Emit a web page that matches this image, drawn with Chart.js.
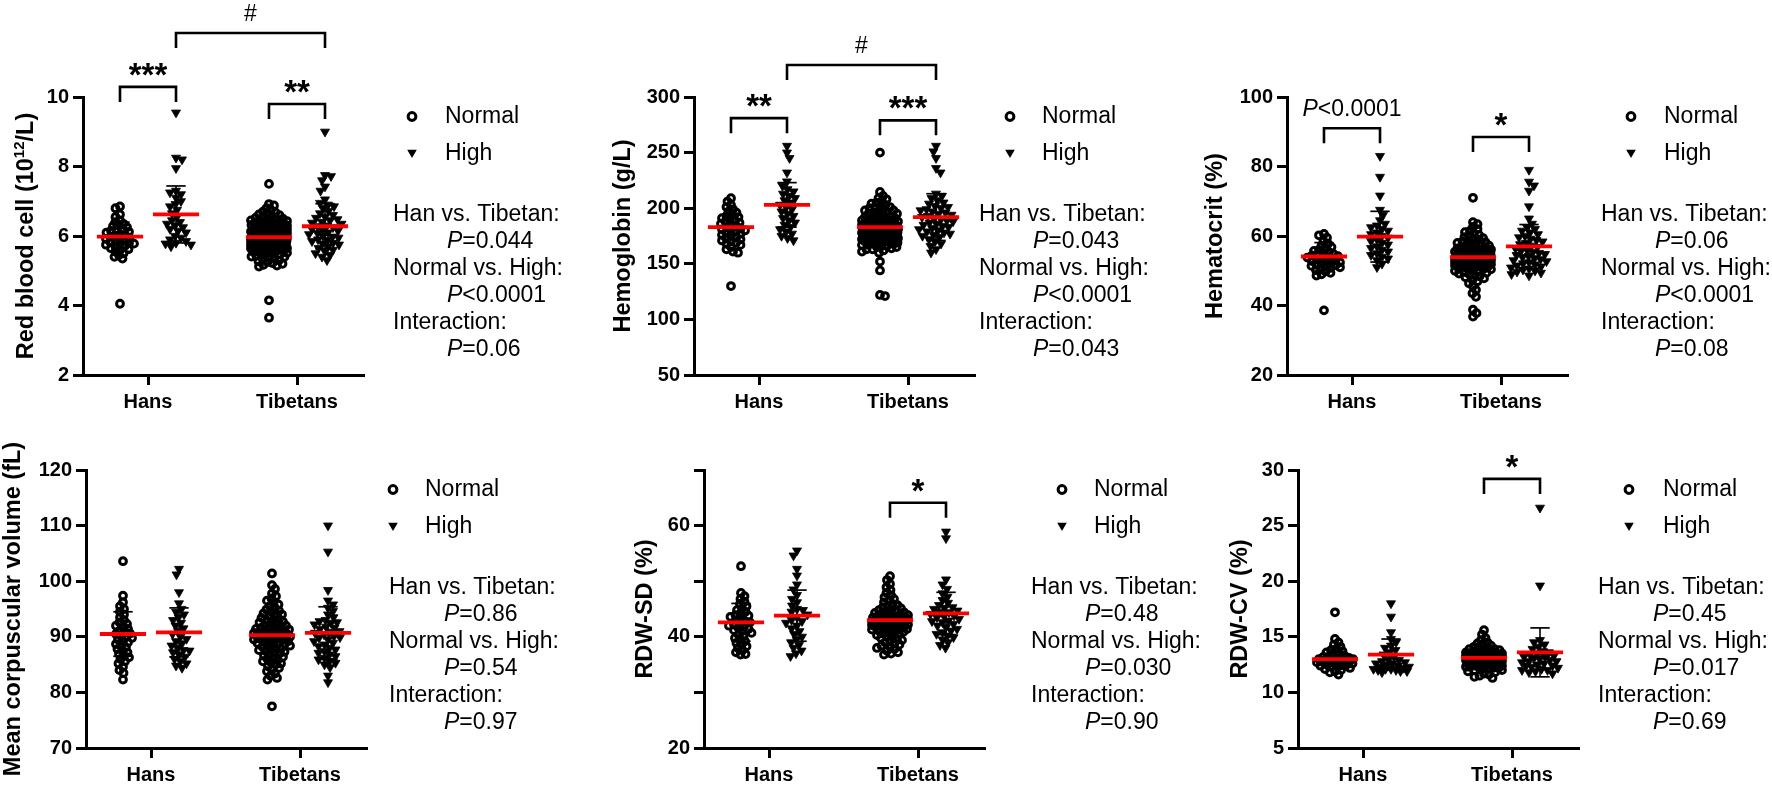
<!DOCTYPE html>
<html>
<head>
<meta charset="utf-8">
<script src="https://cdn.jsdelivr.net/npm/chart.js@4.4.1/dist/chart.umd.min.js"></script>
<style>
html, body { margin: 0; padding: 0; background: #fff; }
#wrap { position: relative; width: 1772px; height: 791px; overflow: hidden; background: #fff; }
#wrap canvas { position: absolute; left: 0; top: 0; }
</style>
</head>
<body>
<div id="wrap">
  <canvas id="c_rbc" width="1772" height="791"></canvas>
  <canvas id="c_hb" width="1772" height="791"></canvas>
  <canvas id="c_hct" width="1772" height="791"></canvas>
  <canvas id="c_mcv" width="1772" height="791"></canvas>
  <canvas id="c_sd" width="1772" height="791"></canvas>
  <canvas id="c_cv" width="1772" height="791"></canvas>
</div>
<script>
// categories / groups
const categories = ['Hans', 'Tibetans'];
const groupNames = ['Normal', 'High'];
const comparisons = ['Han vs. Tibetan:', 'Normal vs. High:', 'Interaction:'];

// Red blood cell (10^12/L)
const rbcHanNormal = [6.85, 6.8, 6.62, 6.55, 6.45, 6.4, 6.35, 6.3, 6.28, 6.25, 6.2, 6.18, 6.15, 6.12, 6.1, 6.05, 6.02, 6.0, 5.98, 5.95, 5.92, 5.9, 5.88, 5.85, 5.82, 5.8, 5.78, 5.75, 5.75, 5.72, 5.7, 5.65, 5.62, 5.6, 5.55, 5.5, 5.45, 5.4, 5.35, 4.05];
const rbcHanHigh = [9.55, 8.25, 8.2, 7.95, 7.3, 7.25, 7.2, 7.1, 7.0, 6.92, 6.85, 6.75, 6.65, 6.55, 6.45, 6.4, 6.35, 6.3, 6.25, 6.2, 6.15, 6.1, 6.0, 5.95, 5.9, 5.85, 5.8, 5.78, 5.75, 5.7];
const rbcTibNormal = [7.5, 6.92, 6.88, 6.8, 6.75, 6.7, 6.68, 6.65, 6.62, 6.6, 6.58, 6.55, 6.52, 6.5, 6.5, 6.48, 6.46, 6.45, 6.43, 6.42, 6.4, 6.4, 6.38, 6.36, 6.35, 6.34, 6.32, 6.3, 6.3, 6.29, 6.28, 6.26, 6.25, 6.24, 6.22, 6.21, 6.2, 6.2, 6.19, 6.18, 6.17, 6.16, 6.15, 6.14, 6.13, 6.12, 6.11, 6.1, 6.1, 6.09, 6.08, 6.07, 6.06, 6.05, 6.05, 6.04, 6.03, 6.02, 6.01, 6.0, 6.0, 5.99, 5.98, 5.97, 5.96, 5.95, 5.95, 5.94, 5.93, 5.92, 5.91, 5.9, 5.9, 5.89, 5.88, 5.87, 5.86, 5.85, 5.85, 5.84, 5.83, 5.82, 5.81, 5.8, 5.8, 5.79, 5.78, 5.77, 5.76, 5.75, 5.74, 5.73, 5.72, 5.71, 5.7, 5.69, 5.68, 5.67, 5.66, 5.65, 5.64, 5.62, 5.61, 5.6, 5.58, 5.57, 5.55, 5.54, 5.52, 5.5, 5.49, 5.47, 5.45, 5.43, 5.41, 5.4, 5.38, 5.35, 5.32, 5.3, 5.27, 5.25, 5.22, 5.2, 5.17, 5.15, 5.12, 4.15, 3.65];
const rbcTibHigh = [9.0, 7.75, 7.72, 7.6, 7.42, 7.3, 7.05, 6.95, 6.9, 6.85, 6.8, 6.72, 6.65, 6.6, 6.55, 6.52, 6.48, 6.45, 6.4, 6.38, 6.35, 6.3, 6.28, 6.25, 6.2, 6.18, 6.15, 6.1, 6.08, 6.05, 6.0, 5.98, 5.95, 5.9, 5.88, 5.85, 5.8, 5.78, 5.75, 5.7, 5.65, 5.6, 5.55, 5.5, 5.45, 5.4, 5.3];
const rbcMeans = [5.98, 6.62, 5.97, 6.28];
const rbcSD = [0.42, 0.82, 0.45, 0.65];

// Hemoglobin (g/L)
const hbHanNormal = [209, 206, 203, 201, 199, 197, 196, 194, 193, 192, 191, 190, 189, 188, 187, 186, 185, 184, 183, 182, 181, 180, 180, 179, 178, 177, 176, 175, 174, 173, 172, 171, 170, 169, 168, 167, 165, 163, 161, 160, 130];
const hbHanHigh = [256, 250, 245, 232, 224, 220, 217, 215, 213, 211, 209, 207, 205, 203, 201, 199, 197, 195, 193, 191, 189, 187, 185, 183, 181, 179, 177, 175, 173, 171];
const hbTibNormal = [250, 214.6, 211, 209, 208, 206, 205, 204, 203, 202, 201, 200, 200, 199, 198, 198, 197, 196, 196, 195, 195, 194, 193, 193, 192, 192, 191, 191, 190, 190, 189, 189, 189, 188, 188, 187, 187, 187, 186, 186, 186, 185, 185, 185, 184, 184, 184, 184, 183, 183, 183, 183, 182, 182, 182, 182, 181, 181, 181, 181, 180, 180, 180, 180, 179, 179, 179, 179, 178, 178, 178, 177, 177, 177, 177, 176, 176, 176, 175, 175, 175, 174, 174, 174, 173, 173, 173, 172, 172, 172, 171, 171, 170, 170, 170, 169, 169, 168, 168, 167, 167, 166, 166, 165, 165, 164, 163, 163, 162, 161, 160, 152, 144, 122, 121];
const hbTibHigh = [256, 251, 245, 236, 232, 213, 211, 209, 207, 205, 204, 202, 201, 200, 199, 198, 197, 196, 195, 194, 193, 192, 191, 190, 189, 188, 187, 186, 185, 184, 183, 182, 181, 180, 179, 178, 177, 176, 175, 174, 172, 170, 168, 166, 163, 160];
const hbMeans = [183, 203, 183, 192];
const hbSD = [11, 20, 15, 21];

// Hematocrit (%)
const hctHanNormal = [60.6, 60.2, 59.5, 58.5, 57.8, 57.2, 56.8, 56.4, 56.0, 55.7, 55.4, 55.1, 54.8, 54.6, 54.4, 54.2, 54.0, 53.8, 53.6, 53.4, 53.2, 53.0, 52.8, 52.6, 52.4, 52.2, 52.0, 51.8, 51.6, 51.4, 51.2, 51.0, 50.8, 50.5, 50.2, 49.8, 49.4, 49.0, 48.6, 38.6];
const hctHanHigh = [83, 77, 71.6, 67.5, 66, 64.5, 63.5, 63, 62.5, 62, 61.5, 61, 60.5, 60, 59.5, 59, 58.5, 58, 57.5, 57, 56.5, 56, 55.5, 55, 54.5, 54, 53.5, 53, 52, 51];
const hctTibNormal = [71, 64, 63.4, 62.6, 62, 61.5, 61.1, 60.7, 60.3, 60, 59.7, 59.4, 59.1, 58.9, 58.6, 58.4, 58.2, 58, 57.8, 57.6, 57.4, 57.2, 57, 56.9, 56.7, 56.5, 56.4, 56.2, 56.1, 56, 55.9, 55.7, 55.6, 55.5, 55.4, 55.3, 55.2, 55.1, 55, 54.9, 54.8, 54.7, 54.6, 54.5, 54.4, 54.3, 54.2, 54.1, 54, 54, 53.9, 53.8, 53.7, 53.6, 53.5, 53.4, 53.3, 53.2, 53.1, 53, 53, 52.9, 52.8, 52.7, 52.6, 52.5, 52.4, 52.3, 52.2, 52.1, 52, 51.9, 51.8, 51.6, 51.5, 51.4, 51.2, 51.1, 51, 50.8, 50.7, 50.5, 50.4, 50.2, 50, 49.8, 49.6, 49.4, 49.2, 49, 48.7, 48.4, 48.1, 47.8, 47.4, 47, 46.4, 45.6, 44.5, 43.5, 42.5, 38.8, 37.8, 36.8];
const hctTibHigh = [79, 75.6, 74.5, 73, 68.5, 65, 63.5, 62.5, 62, 61.5, 61, 60.5, 60, 59.6, 59.2, 58.8, 58.4, 58, 57.6, 57.2, 56.8, 56.4, 56, 55.7, 55.4, 55.1, 54.8, 54.5, 54.2, 53.9, 53.6, 53.3, 53, 52.7, 52.4, 52.1, 51.8, 51.5, 51.2, 50.9, 50.6, 50.3, 50, 49.7, 49.4, 49, 48.6];
const hctMeans = [54.1, 59.8, 53.9, 57.0];
const hctSD = [4.0, 7.3, 4.8, 6.3];

// Mean corpuscular volume (fL)
const mcvHanNormal = [103.6, 97.4, 96.2, 95.5, 95, 94.5, 94, 93.5, 93, 92.6, 92.3, 92, 91.7, 91.4, 91.1, 90.8, 90.6, 90.5, 90.2, 90, 89.8, 89.5, 89.2, 89, 88.7, 88.4, 88.1, 87.8, 87.5, 87.2, 86.9, 86.6, 86.3, 86, 85.6, 85.2, 84.6, 84, 83.5, 82.3];
const mcvHanHigh = [102.2, 101.2, 98, 96, 95, 94.5, 94, 93.5, 93, 92.5, 92, 91.5, 91, 90.5, 90, 89.6, 89.2, 88.8, 88.4, 88, 87.6, 87.5, 87.2, 86.8, 86.4, 86, 85.6, 85.2, 84.8, 84.4];
const mcvTibNormal = [101.4, 99.3, 98.6, 97.8, 97.3, 96.9, 96.5, 96.1, 95.8, 95.5, 95.2, 94.9, 94.7, 94.4, 94.2, 94, 93.8, 93.6, 93.4, 93.2, 93, 92.9, 92.7, 92.6, 92.4, 92.3, 92.1, 92, 91.9, 91.7, 91.6, 91.5, 91.4, 91.3, 91.2, 91.1, 91, 90.9, 90.8, 90.7, 90.6, 90.5, 90.4, 90.3, 90.2, 90.1, 90, 90, 89.9, 89.8, 89.7, 89.6, 89.5, 89.4, 89.3, 89.2, 89.1, 89, 88.9, 88.8, 88.7, 88.6, 88.4, 88.3, 88.2, 88, 87.9, 87.7, 87.6, 87.4, 87.3, 87.1, 87, 86.8, 86.6, 86.4, 86.2, 86, 85.8, 85.6, 85.4, 85.2, 85, 84.7, 84.4, 84.1, 83.8, 83.4, 83, 82.6, 82.3, 77.5];
const mcvTibHigh = [110, 105.3, 98.4, 96.5, 95.8, 95.2, 94.6, 94, 93.5, 93, 92.8, 92.6, 92.5, 92.2, 91.8, 91.6, 91.4, 91, 90.9, 90.7, 90.4, 90.1, 89.9, 89.8, 89.5, 89.2, 88.9, 88.6, 88.3, 88, 87.7, 87.4, 87.1, 86.8, 86.5, 86.2, 85.9, 85.6, 85.3, 85, 84.5, 83, 81.8];
const mcvMeans = [90.5, 90.8, 90.3, 90.7];
const mcvSD = [4.0, 4.4, 4.3, 4.7];

// RDW-SD (%)
const sdHanNormal = [52.7, 47.9, 47.3, 46.8, 46.3, 45.9, 45.5, 45.1, 44.8, 44.5, 44.2, 43.9, 43.8, 43.6, 43.3, 43, 42.8, 42.6, 42.4, 42.2, 42, 41.8, 41.6, 41.4, 41.2, 41, 40.7, 40.4, 40.1, 39.8, 39.5, 39.2, 38.9, 38.6, 38.3, 38, 37.6, 37.2, 36.9, 36.8];
const sdHanHigh = [55.5, 54.6, 52.2, 51, 49.4, 48.5, 47.5, 46.8, 46.2, 45.6, 45, 44.8, 44.5, 44, 43.5, 43, 42.8, 42.5, 42, 41.5, 41, 40.5, 40, 39.5, 39, 38.5, 38, 37.5, 37, 36.5];
const sdTibNormal = [50.9, 50.2, 49.5, 48.9, 48.4, 47.9, 47.5, 47.1, 46.8, 46.5, 46.2, 45.9, 45.7, 45.5, 45.3, 45.1, 44.9, 44.8, 44.6, 44.5, 44.4, 44.3, 44.2, 44.1, 44, 43.9, 43.8, 43.7, 43.6, 43.5, 43.5, 43.4, 43.3, 43.2, 43.2, 43.1, 43, 43, 42.9, 42.8, 42.8, 42.7, 42.6, 42.6, 42.5, 42.4, 42.4, 42.3, 42.2, 42.2, 42.1, 42, 42, 41.9, 41.8, 41.7, 41.6, 41.5, 41.4, 41.3, 41.2, 41.1, 41, 40.9, 40.8, 40.6, 40.5, 40.3, 40.1, 40, 39.8, 39.6, 39.4, 39.2, 39, 38.8, 38.6, 38.4, 38.2, 38, 37.8, 37.5, 37.2, 37, 36.8];
const sdTibHigh = [58.9, 57.7, 50.3, 49.4, 48.6, 47.8, 47.2, 46.6, 46.1, 45.7, 45.3, 45.2, 45, 44.7, 44.5, 44.4, 44.1, 43.8, 43.7, 43.5, 43.2, 42.9, 42.8, 42.6, 42.3, 42, 41.7, 41.4, 41.1, 40.8, 40.5, 40.2, 39.9, 39.5, 39, 38.5, 38];
const sdMeans = [42.6, 43.8, 43.0, 44.2];
const sdSD = [3.4, 4.6, 3.0, 3.8];

// RDW-CV (%)
const cvHanNormal = [17.2, 14.8, 14.5, 14.3, 14.1, 13.9, 13.8, 13.7, 13.6, 13.5, 13.4, 13.3, 13.2, 13.2, 13.1, 13.1, 13, 13, 13, 12.9, 12.9, 12.8, 12.8, 12.8, 12.7, 12.7, 12.6, 12.6, 12.5, 12.5, 12.4, 12.4, 12.3, 12.3, 12.2, 12.1, 12, 11.9, 11.8, 11.6];
const cvHanHigh = [18.0, 16.8, 15.4, 14.8, 14.5, 14.2, 14, 13.8, 13.6, 13.4, 13.2, 13, 12.9, 12.8, 12.7, 12.6, 12.6, 12.5, 12.4, 12.3, 12.3, 12.2, 12.1, 12.1, 12.1, 12, 12, 11.9, 11.9, 11.8];
const cvTibNormal = [15.6, 15.2, 14.9, 14.7, 14.5, 14.4, 14.3, 14.2, 14.1, 14, 14, 13.9, 13.9, 13.8, 13.8, 13.7, 13.7, 13.6, 13.6, 13.6, 13.5, 13.5, 13.5, 13.4, 13.4, 13.4, 13.4, 13.3, 13.3, 13.3, 13.3, 13.2, 13.2, 13.2, 13.2, 13.2, 13.1, 13.1, 13.1, 13.1, 13.1, 13, 13, 13, 13, 13, 12.9, 12.9, 12.9, 12.9, 12.9, 12.8, 12.8, 12.8, 12.8, 12.8, 12.7, 12.7, 12.7, 12.7, 12.6, 12.6, 12.6, 12.6, 12.5, 12.5, 12.5, 12.4, 12.4, 12.4, 12.3, 12.3, 12.3, 12.2, 12.2, 12.1, 12.1, 12, 12, 11.9, 11.8, 11.7, 11.6, 11.5, 11.4, 11.3];
const cvTibHigh = [26.6, 19.6, 14.7, 14.5, 14.3, 14.1, 13.9, 13.7, 13.6, 13.5, 13.4, 13.3, 13.2, 13.2, 13.1, 13, 12.9, 12.8, 12.8, 12.7, 12.6, 12.5, 12.4, 12.4, 12.3, 12.2, 12.1, 12, 12, 11.9, 11.8, 11.7];
const cvMeans = [13.0, 13.4, 13.1, 13.6];
const cvSD = [0.9, 1.4, 0.8, 2.2];

// y axis ranges [min, max, step]
const rbcAxis = [2, 10, 2];
const hbAxis = [50, 300, 50];
const hctAxis = [20, 100, 20];
const mcvAxis = [70, 120, 10];
const sdAxis = [20, 70, 10];
const cvAxis = [5, 30, 5];

// two-way ANOVA P values (Han vs Tibetan, Normal vs High, Interaction)
const rbcP = ['=0.044', '<0.0001', '=0.06'];
const hbP = ['=0.043', '<0.0001', '=0.043'];
const hctP = ['=0.06', '<0.0001', '=0.08'];
const mcvP = ['=0.86', '=0.54', '=0.97'];
const sdP = ['=0.48', '=0.030', '=0.90'];
const cvP = ['=0.45', '=0.017', '=0.69'];

// brackets: [from group, to group, y value, label]  groups: 0 Han-Normal, 1 Han-High, 2 Tib-Normal, 3 Tib-High
const rbcBrackets = [[0, 1, 10.29, '***'], [1, 3, 11.84, '#'], [2, 3, 9.8, '**']];
const hbBrackets = [[0, 1, 281, '**'], [1, 3, 328.8, '#'], [2, 3, 279, '***']];
const hctBrackets = [[0, 1, 91, 'P<0.0001'], [2, 3, 88.5, '*']];
const mcvBrackets = [];
const sdBrackets = [[2, 3, 64.1, '*']];
const cvBrackets = [[2, 3, 29.2, '*']];

const FONT = "'Liberation Sans', Arial, sans-serif";
Chart.defaults.font.family = FONT;
Chart.defaults.color = '#000';

const W = 1772, H = 791;
const PLOT_H = 278;      // axis height
const UNIT_PX = 149;     // px between Hans and Tibetans
const OFF = 0.188;       // group offset from category centre
const MAX_SPREAD = 18;   // half width of a dot column, px
const groupX = [1 - OFF, 1 + OFF, 2 - OFF, 2 + OFF];

// put dots side by side in a column (dot plot), overlapping when crowded
function swarm(values, center, yMin, yMax, minDist) {
    const pxY = PLOT_H / (yMax - yMin);
    const items = values.slice().sort((a, b) => b - a);
    const placed = [];
    let flip = 1;
    items.forEach(v => {
        const py = v * pxY;
        let best = 0, bestD = -1;
        for (let k = 0; k < 200; k++) {
            const cand = k === 0 ? 0 : Math.ceil(k / 2) * 0.5 * (k % 2 ? flip : -flip);
            if (Math.abs(cand) > MAX_SPREAD) break;
            let dmin = 1e9;
            for (const q of placed) {
                const dy = q.py - py, dx = q.off - cand;
                const d = Math.sqrt(dx * dx + dy * dy);
                if (d < dmin) dmin = d;
            }
            if (dmin >= minDist) { best = cand; bestD = dmin; break; }
            if (dmin > bestD) { bestD = dmin; best = cand; }
        }
        flip = -flip;
        placed.push({ v: v, py: py, off: best });
    });
    return placed.map(q => ({ x: center + q.off / UNIT_PX, y: q.v }));
}

function lineSet(points, color, width) {
    return {
        data: points, showLine: true, borderColor: color, borderWidth: width,
        pointRadius: 0, pointHoverRadius: 0, clip: false, order: color === '#000' ? 2 : 1
    };
}

function drawRich(ctx, parts, x, y, align) {
    let total = 0;
    parts.forEach(p => { ctx.font = p.font; total += ctx.measureText(p.t).width; });
    let cx = align === 'center' ? x - total / 2 : x;
    parts.forEach(p => {
        ctx.font = p.font;
        ctx.fillText(p.t, cx, y + (p.dy || 0));
        cx += ctx.measureText(p.t).width;
    });
}

function pParts(txt, size) {
    return [
        { t: 'P', font: 'italic ' + size + 'px ' + FONT },
        { t: txt, font: size + 'px ' + FONT }
    ];
}

const panelDecor = {
    id: 'panelDecor',
    afterDraw(chart, args, o) {
        const ctx = chart.ctx;
        const xs = chart.scales.x, ys = chart.scales.y, area = chart.chartArea;
        ctx.save();
        ctx.fillStyle = '#000';
        ctx.strokeStyle = '#000';
        ctx.textBaseline = 'alphabetic';
        ctx.textAlign = 'left';

        // y axis title (rotated)
        ctx.save();
        ctx.translate(o.titleX, (area.top + area.bottom) / 2);
        ctx.rotate(-Math.PI / 2);
        ctx.textBaseline = 'middle';
        drawRich(ctx, o.title, 0, 0, 'center');
        ctx.restore();

        // significance brackets
        ctx.lineWidth = 2.6;
        o.brackets.forEach(b => {
            const x1 = xs.getPixelForValue(groupX[b[0]]);
            const x2 = xs.getPixelForValue(groupX[b[1]]);
            const yt = ys.getPixelForValue(b[2]);
            ctx.beginPath();
            ctx.moveTo(x1, yt + 15);
            ctx.lineTo(x1, yt);
            ctx.lineTo(x2, yt);
            ctx.lineTo(x2, yt + 15);
            ctx.stroke();
            const mx = (x1 + x2) / 2;
            if (b[3].charAt(0) === '*') {
                drawRich(ctx, [{ t: b[3], font: 'bold 33px ' + FONT }], mx, yt - 1, 'center');
            } else if (b[3] === '#') {
                drawRich(ctx, [{ t: b[3], font: '23px ' + FONT }], mx, yt - 12, 'center');
            } else {
                drawRich(ctx, pParts(b[3].slice(1), 23), mx, yt - 12, 'center');
            }
        });

        // legend
        ctx.textBaseline = 'middle';
        const ly1 = area.top + 19.5, ly2 = area.top + 56.5;
        ctx.lineWidth = 3;
        ctx.beginPath();
        ctx.arc(o.legendX, ly1, 3.9, 0, Math.PI * 2);
        ctx.stroke();
        ctx.beginPath();
        ctx.moveTo(o.legendX - 4.8, ly2 - 3.8);
        ctx.lineTo(o.legendX + 4.8, ly2 - 3.8);
        ctx.lineTo(o.legendX, ly2 + 4.6);
        ctx.closePath();
        ctx.fill();
        ctx.font = '23px ' + FONT;
        ctx.fillText(groupNames[0], o.legendTextX, ly1);
        ctx.fillText(groupNames[1], o.legendTextX, ly2);

        // statistics text
        const sy = area.top + 118, step = 26.9;
        comparisons.forEach((c, i) => {
            ctx.font = '23px ' + FONT;
            ctx.fillText(c, o.statsX, sy + step * 2 * i);
            drawRich(ctx, pParts(o.pvals[i], 23), o.statsPX, sy + step * (2 * i + 1), 'left');
        });
        ctx.restore();
    }
};

function makePanel(cfg) {
    const [yMin, yMax, yStep] = cfg.axis;
    const normal = swarm(cfg.data[0], groupX[0], yMin, yMax, 4.8).concat(swarm(cfg.data[2], groupX[2], yMin, yMax, 4.8));
    const high = swarm(cfg.data[1], groupX[1], yMin, yMax, 6).concat(swarm(cfg.data[3], groupX[3], yMin, yMax, 6));

    const datasets = [
        {
            label: groupNames[0], data: normal, pointStyle: 'circle', pointRadius: 3.4,
            pointBorderWidth: 3, pointBorderColor: '#000', pointBackgroundColor: 'rgba(0,0,0,0)',
            order: 3, clip: false
        },
        {
            label: groupNames[1], data: high, pointStyle: 'triangle', pointRotation: 180, pointRadius: 5.2,
            pointBorderWidth: 0.8, pointBorderColor: '#000', pointBackgroundColor: '#000',
            order: 3, clip: false
        }
    ];
    const capW = 0.065, meanW = 0.155;
    cfg.means.forEach((m, i) => {
        const gx = groupX[i], sd = cfg.sd[i];
        datasets.push(lineSet([{ x: gx, y: m - sd }, { x: gx, y: m + sd }], '#000', 1.6));
        datasets.push(lineSet([{ x: gx - capW, y: m + sd }, { x: gx + capW, y: m + sd }], '#000', 1.7));
        datasets.push(lineSet([{ x: gx - capW, y: m - sd }, { x: gx + capW, y: m - sd }], '#000', 1.7));
        datasets.push(lineSet([{ x: gx - meanW, y: m }, { x: gx + meanW, y: m }], '#ff0000', 3.8));
    });

    const axisLine = { display: true, color: '#000', width: 3 };
    const gridTicks = { drawOnChartArea: false, drawTicks: true, tickLength: 10, tickWidth: 3, tickColor: '#000', color: '#000', lineWidth: 3 };

    new Chart(document.getElementById(cfg.canvas), {
        type: 'scatter',
        data: { datasets: datasets },
        options: {
            responsive: false,
            animation: false,
            devicePixelRatio: 1,
            events: [],
            layout: { padding: { top: cfg.top, left: 0, right: W - (cfg.axisX + 280), bottom: 0 } },
            plugins: {
                legend: { display: false },
                tooltip: { enabled: false },
                panelDecor: {
                    title: cfg.title, titleX: cfg.titleX, brackets: cfg.brackets,
                    legendX: cfg.legendX, legendTextX: cfg.legendTextX,
                    statsX: cfg.statsX, statsPX: cfg.statsPX, pvals: cfg.pvals
                }
            },
            scales: {
                x: {
                    type: 'linear', min: 1 - 65 / UNIT_PX, max: 2 + 66 / UNIT_PX,
                    afterBuildTicks: s => { s.ticks = [{ value: 1 }, { value: 2 }]; },
                    afterFit: s => { s.height = H - (cfg.top + PLOT_H); },
                    ticks: {
                        callback: v => (v === 1 ? categories[0] : (v === 2 ? categories[1] : '')),
                        font: { size: 20, weight: 'bold' }, color: '#000', padding: 5,
                        maxRotation: 0, autoSkip: false
                    },
                    grid: gridTicks,
                    border: axisLine
                },
                y: {
                    min: yMin, max: yMax,
                    afterFit: s => { s.width = cfg.axisX; },
                    ticks: {
                        stepSize: yStep,
                        callback: cfg.labelEvery ? (v => (v % cfg.labelEvery === 0 ? v : '')) : (v => v),
                        font: { size: 20, weight: 'bold' }, color: '#000', padding: 4
                    },
                    grid: gridTicks,
                    border: axisLine
                }
            }
        },
        plugins: [panelDecor]
    });
}

function boldTitle(t) {
    return [{ t: t, font: 'bold 23.5px ' + FONT }];
}

makePanel({
    canvas: 'c_rbc', top: 97, axisX: 83, titleX: 27,
    legendX: 412, legendTextX: 445, statsX: 393, statsPX: 447,
    title: [
        { t: 'Red blood cell (10', font: 'bold 23.5px ' + FONT },
        { t: '12', font: 'bold 15px ' + FONT, dy: -7 },
        { t: '/L)', font: 'bold 23.5px ' + FONT }
    ],
    axis: rbcAxis, data: [rbcHanNormal, rbcHanHigh, rbcTibNormal, rbcTibHigh],
    means: rbcMeans, sd: rbcSD, brackets: rbcBrackets, pvals: rbcP
});
makePanel({
    canvas: 'c_hb', top: 97, axisX: 694, titleX: 624,
    legendX: 1010, legendTextX: 1042, statsX: 979, statsPX: 1033,
    title: boldTitle('Hemoglobin (g/L)'),
    axis: hbAxis, data: [hbHanNormal, hbHanHigh, hbTibNormal, hbTibHigh],
    means: hbMeans, sd: hbSD, brackets: hbBrackets, pvals: hbP
});
makePanel({
    canvas: 'c_hct', top: 97, axisX: 1287, titleX: 1216,
    legendX: 1631, legendTextX: 1664, statsX: 1601, statsPX: 1655,
    title: boldTitle('Hematocrit (%)'),
    axis: hctAxis, data: [hctHanNormal, hctHanHigh, hctTibNormal, hctTibHigh],
    means: hctMeans, sd: hctSD, brackets: hctBrackets, pvals: hctP
});
makePanel({
    canvas: 'c_mcv', top: 470, axisX: 86, titleX: 14,
    legendX: 393, legendTextX: 425, statsX: 389, statsPX: 444,
    title: boldTitle('Mean corpuscular volume (fL)'),
    axis: mcvAxis, data: [mcvHanNormal, mcvHanHigh, mcvTibNormal, mcvTibHigh],
    means: mcvMeans, sd: mcvSD, brackets: mcvBrackets, pvals: mcvP
});
makePanel({
    canvas: 'c_sd', top: 470, axisX: 704, titleX: 646,
    legendX: 1062, legendTextX: 1094, statsX: 1031, statsPX: 1085,
    title: boldTitle('RDW-SD (%)'), labelEvery: 20,
    axis: sdAxis, data: [sdHanNormal, sdHanHigh, sdTibNormal, sdTibHigh],
    means: sdMeans, sd: sdSD, brackets: sdBrackets, pvals: sdP
});
makePanel({
    canvas: 'c_cv', top: 470, axisX: 1298, titleX: 1241,
    legendX: 1629, legendTextX: 1663, statsX: 1598, statsPX: 1653,
    title: boldTitle('RDW-CV (%)'),
    axis: cvAxis, data: [cvHanNormal, cvHanHigh, cvTibNormal, cvTibHigh],
    means: cvMeans, sd: cvSD, brackets: cvBrackets, pvals: cvP
});
</script>
</body>
</html>
